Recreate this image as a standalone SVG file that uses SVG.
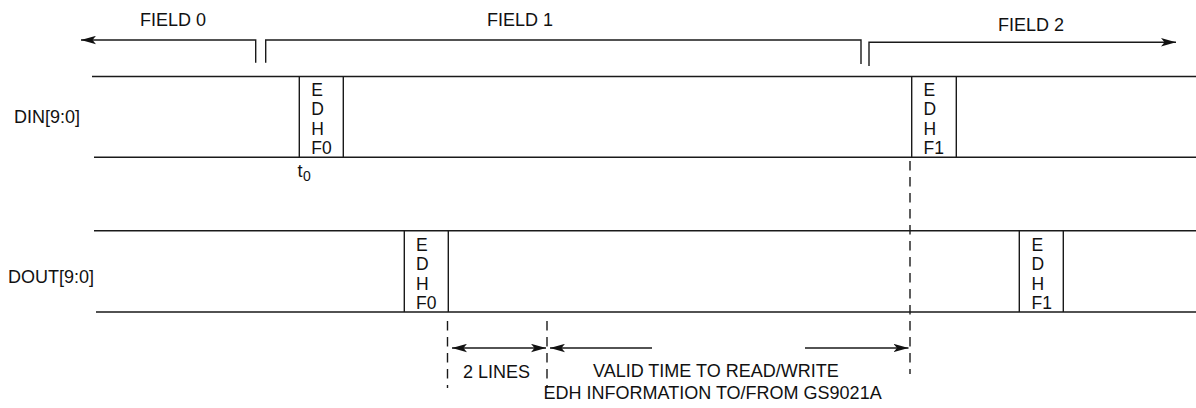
<svg xmlns="http://www.w3.org/2000/svg" width="1196" height="408" viewBox="0 0 1196 408">
<style>
  .ln { stroke:#1a1a1a; stroke-width:1.4; fill:none; }
  .dash { stroke:#1a1a1a; stroke-width:1.4; fill:none; stroke-dasharray:9.5 6.5; }
  .lbl { font-family:"Liberation Sans", Arial, sans-serif; font-size:18px; fill:#111; }
  .edh { font-family:"Liberation Sans", Arial, sans-serif; font-size:17.5px; fill:#111; }
</style>
<defs>
  <marker id="ah" viewBox="0 -4.5 15 9" refX="15" refY="0" markerWidth="15" markerHeight="9" markerUnits="userSpaceOnUse" orient="auto-start-reverse">
    <path d="M0,-4.2 L15,0 L0,4.2 L3.5,0 Z" fill="#111"/>
  </marker>
</defs>
<rect width="1196" height="408" fill="#fff"/>

<g id="fields">
  <text class="lbl" x="140" y="26">FIELD 0</text>
  <text class="lbl" x="487" y="26">FIELD 1</text>
  <text class="lbl" x="998" y="31">FIELD 2</text>
  <path class="ln" d="M255.7,62.7 V40 H81" marker-end="url(#ah)"/>
  <path class="ln" d="M265.7,62.7 V40 H861 V64"/>
  <path class="ln" d="M869,66 V42.3 H1176" marker-end="url(#ah)"/>
</g>

<g id="din">
  <text class="lbl" x="14" y="122.5">DIN[9:0]</text>
  <path class="ln" d="M92,76.5 H1196 M94,157.3 H1196"/>
  <path class="ln" d="M299.3,76.5 V157.3 M343.3,76.5 V157.3"/>
  <path class="ln" d="M911.7,76.5 V157.3 M956.3,76.5 V157.3"/>
  <text class="edh" x="311.3" y="95.5">E</text>
  <text class="edh" x="311.3" y="115">D</text>
  <text class="edh" x="311.3" y="134.5">H</text>
  <text class="edh" x="311.3" y="154">F0</text>
  <text class="edh" x="923.6" y="95.5">E</text>
  <text class="edh" x="923.6" y="115">D</text>
  <text class="edh" x="923.6" y="134.5">H</text>
  <text class="edh" x="923.6" y="154">F1</text>
  <text class="lbl" x="297.5" y="177">t</text>
  <text class="lbl" x="303" y="181" style="font-size:14px">0</text>
</g>

<g id="dout">
  <text class="lbl" x="8" y="283">DOUT[9:0]</text>
  <path class="ln" d="M94,230.7 H1196 M96,312 H1196"/>
  <path class="ln" d="M404.3,230.7 V312 M448.3,230.7 V312"/>
  <path class="ln" d="M1019.3,230.7 V312 M1063.3,230.7 V312"/>
  <text class="edh" x="416" y="250.5">E</text>
  <text class="edh" x="416" y="270">D</text>
  <text class="edh" x="416" y="289.5">H</text>
  <text class="edh" x="416" y="309">F0</text>
  <text class="edh" x="1031.6" y="250.5">E</text>
  <text class="edh" x="1031.6" y="270">D</text>
  <text class="edh" x="1031.6" y="289.5">H</text>
  <text class="edh" x="1031.6" y="309">F1</text>
</g>

<g id="connectors">
  <path class="dash" d="M910,161 V374"/>
  <path class="dash" d="M447.5,321 V388"/>
  <path class="dash" d="M547,321 V388"/>
  <path class="ln" d="M452,348 H546" marker-start="url(#ah)" marker-end="url(#ah)"/>
  <path class="ln" d="M550,348 H652" marker-start="url(#ah)"/>
  <path class="ln" d="M805,348 H908.5" marker-end="url(#ah)"/>
</g>

<g id="annotations">
  <text class="lbl" x="463" y="377.5">2 LINES</text>
  <text class="lbl" x="593" y="377">VALID TIME TO READ/WRITE</text>
  <text class="lbl" x="543.6" y="399">EDH INFORMATION TO/FROM GS9021A</text>
</g>
</svg>
